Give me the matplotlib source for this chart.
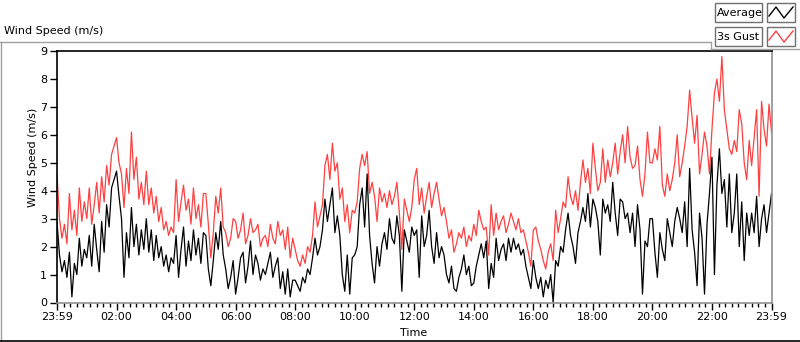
import numpy as np
import matplotlib
matplotlib.use("Agg")
import matplotlib.pyplot as plt
from matplotlib.lines import Line2D
from matplotlib.patches import Rectangle
from matplotlib.ticker import MultipleLocator

# Velocidade media (m/s), uma amostra a cada 5 minutos (12 por hora)
media = [
    2.9, 1.7, 1.1, 1.5, 0.9, 1.8, 0.2, 1.4, 1.0, 2.3, 1.3, 1.9,
    1.6, 2.4, 1.3, 2.8, 1.9, 1.1, 2.9, 1.8, 3.5, 2.7, 4.1, 4.4,
    4.7, 3.8, 3.0, 0.9, 2.5, 1.6, 3.4, 2.0, 2.8, 1.7, 2.6, 1.9,
    3.0, 1.8, 2.6, 1.5, 2.4, 1.6, 2.0, 1.3, 1.7, 1.1, 1.6, 1.4,
    2.4, 0.9, 1.9, 2.7, 1.3, 2.2, 1.5, 2.6, 1.7, 2.3, 1.4, 2.5,
    2.4, 1.2, 0.6, 1.5, 2.5, 1.9, 2.9, 1.7, 1.2, 0.5, 0.9, 1.5,
    0.3, 0.9, 1.6, 1.8, 0.7, 1.3, 2.2, 1.0, 1.7, 1.4, 0.8, 1.2,
    1.0, 1.4, 1.8, 0.9, 1.3, 1.6, 0.5, 1.1, 0.3, 1.2, 0.2, 0.8,
    0.8, 0.6, 0.4, 0.9, 0.7, 1.2, 1.0, 1.6, 2.3, 1.7, 2.0, 2.6,
    3.7, 2.9, 3.5, 4.1, 2.5, 3.1, 2.4, 1.0, 0.4, 1.7, 0.3, 1.6,
    1.7, 2.0, 3.5, 4.1, 2.7, 4.6, 2.4, 1.4, 0.7, 2.0, 1.3, 2.1,
    2.5, 1.9, 3.0, 2.3, 2.1, 3.1, 2.4, 0.4, 2.6, 2.2, 1.8, 2.7,
    2.4, 2.6, 0.9, 3.1, 2.0, 2.4, 3.3, 2.0, 1.4, 2.5, 1.6, 2.0,
    1.7, 1.0, 0.7, 1.3, 0.5, 0.4, 0.9, 1.2, 1.7, 1.0, 1.3, 0.6,
    0.7, 1.3, 1.7, 2.1, 1.6, 2.2, 0.5, 1.4, 0.9, 2.3, 1.5, 1.9,
    2.1, 1.5, 2.3, 1.8, 2.3, 1.9, 2.1, 1.7, 1.9, 1.3, 0.9, 0.5,
    1.5, 0.9, 0.5, 0.9, 0.2, 0.8, 0.5, 1.0, 0.0, 1.5, 1.3, 2.0,
    1.8, 2.6, 3.2, 2.4, 2.0, 1.4, 2.5, 2.9, 3.4, 2.9, 3.9, 2.7,
    3.7, 3.4, 2.9, 1.7, 3.7, 3.2, 3.5, 2.9, 4.3, 3.2, 2.4, 3.7,
    3.6, 3.0, 3.2, 2.5, 3.2, 2.0, 3.5, 2.6, 0.3, 2.2, 2.0, 3.0,
    3.0, 1.8, 0.9, 2.5, 1.9, 1.5, 3.0, 2.5, 2.0, 2.9, 3.4, 3.0,
    2.5, 3.6, 2.0, 4.8, 2.6, 1.8, 0.6, 3.2, 2.3, 0.3, 2.8, 3.9,
    5.2, 1.0, 4.2, 5.5, 3.9, 4.4, 2.7, 4.6, 2.5, 3.2, 4.6, 2.0,
    3.6, 1.5, 3.2, 2.4, 3.2, 2.5, 3.8, 2.0, 3.0, 3.5, 2.5, 3.2, 3.9,
]

# Rajada de 3 s (m/s), mesmas amostras
rajada = [
    4.6, 3.0, 2.3, 2.8, 2.1, 3.9, 2.6, 3.3, 2.4, 4.1, 2.9, 3.6,
    3.0, 4.1, 2.8, 3.5, 4.3, 3.2, 4.5, 3.6, 4.9, 4.2, 5.3, 5.6,
    5.9, 5.0, 4.6, 3.4, 4.8, 3.9, 6.1, 4.4, 5.2, 3.7, 4.3, 3.5,
    4.7, 3.5, 4.1, 3.2, 3.8, 2.9, 3.4, 2.6, 2.9, 2.4, 2.7, 2.5,
    4.4, 2.9, 3.6, 4.2, 3.3, 3.7, 2.8, 4.1, 3.0, 3.5, 2.7, 3.9,
    3.9, 2.8, 1.6, 2.5, 3.8, 3.2, 4.1, 2.7, 2.5, 2.0, 2.3, 3.0,
    2.9, 2.3, 2.6, 3.2, 2.1, 2.4, 3.0, 2.5, 2.6, 2.8, 2.0, 2.3,
    2.4, 2.0, 2.8, 2.3, 2.1, 2.9, 2.4, 2.6, 1.9, 2.7, 1.6, 2.3,
    1.9, 1.5, 1.3, 1.7, 1.4, 2.0, 1.8, 2.4, 3.6, 2.7, 3.1, 3.5,
    4.9, 5.3, 4.4, 5.7, 4.7, 5.0, 3.7, 4.1, 2.9, 3.5, 2.5, 3.3,
    3.2, 3.6, 4.8, 5.3, 4.9, 5.4, 3.9, 4.3, 3.8, 2.9, 4.1, 3.6,
    3.9, 3.4, 4.0, 3.5, 3.8, 4.3, 3.2, 1.9, 3.7, 3.3, 2.9, 3.4,
    4.4, 4.8, 3.5, 4.1, 3.2, 3.8, 4.3, 3.4, 3.9, 4.3, 3.7, 3.1,
    3.4, 2.9, 2.3, 2.6, 1.8, 2.1, 2.5, 2.3, 2.7, 2.0, 2.4, 2.2,
    2.8, 2.4, 3.3, 2.9, 2.6, 2.7, 1.7, 3.5, 2.4, 3.2, 2.6, 2.9,
    3.1, 2.5, 2.8, 3.2, 2.9, 2.6, 3.0, 2.5, 2.6, 2.2, 1.8, 1.3,
    2.6, 2.7, 2.2, 1.9, 1.5, 1.2, 1.8, 2.1, 1.5, 3.3, 2.5, 3.0,
    3.6, 3.4, 4.5, 3.8, 3.5, 4.0, 3.3, 4.3, 5.1, 4.3, 4.8, 3.9,
    5.7, 4.8, 4.0, 4.3, 5.5, 4.3, 5.1, 4.5, 5.0, 5.7, 4.6, 5.4,
    6.0, 5.0, 6.3, 5.2, 4.8, 4.9, 5.6, 4.4, 3.8, 4.6, 6.1, 5.0,
    5.0, 5.5, 5.1, 6.3, 4.2, 3.8, 4.6, 4.0, 4.4, 5.0, 6.0, 4.5,
    5.0, 5.6, 6.3, 7.6, 6.6, 5.7, 6.7, 4.6, 5.3, 6.1, 5.6, 4.6,
    6.2, 7.5, 8.0, 7.2, 8.8, 6.9, 6.2, 5.5, 5.3, 5.8, 5.4, 6.9,
    6.4, 5.0, 4.4, 5.8, 4.9, 5.9, 6.9, 3.8, 7.2, 6.2, 5.6, 7.1, 6.1,
]

horas_ticks = [0, 2, 4, 6, 8, 10, 12, 14, 16, 18, 20, 22, 24]
rotulos_ticks = ["23:59", "02:00", "04:00", "06:00", "08:00", "10:00", "12:00",
                 "14:00", "16:00", "18:00", "20:00", "22:00", "23:59"]
velocidades_ticks = [0, 1, 2, 3, 4, 5, 6, 7, 8, 9]

W, H = 800, 342
fonte = 8
plt.rcParams['font.family'] = ['DejaVu Sans']


def fx(px):
    return px / W


def fy(py):
    return 1 - py / H


# tempo em horas a partir do inicio do registro
tempo = np.arange(len(media)) * 5 / 60

fig = plt.figure(figsize=(W / 100, H / 100), dpi=100)
ax = fig.add_axes([fx(57), fy(302.5), fx(771.5) - fx(57), fy(51) - fy(302.5)])

ax.plot(tempo, rajada, color='#ff4040', linewidth=0.9)
ax.plot(tempo, media, color='black', linewidth=0.9)

ax.set_xlim(0, 24)
ax.set_ylim(0, 9)
ax.set_xticks(horas_ticks)
ax.set_xticklabels(rotulos_ticks)
ax.xaxis.set_minor_locator(MultipleLocator(2 / 9))
ax.set_yticks(velocidades_ticks)

ax.tick_params(axis='both', which='major', direction='out', length=5, width=1,
               labelsize=fonte, pad=2)
ax.tick_params(axis='x', which='minor', direction='out', length=3, width=1)

ax.spines['top'].set_color('black')
ax.spines['left'].set_color('black')
ax.spines['right'].set_color('#909090')
ax.spines['bottom'].set_color('#909090')
for s in ax.spines.values():
    s.set_linewidth(1.2)

# rotulos
fig.text(fx(4), fy(31), "Wind Speed (m/s)", ha='left', va='center', fontsize=fonte)
fig.text(fx(33), fy(157), "Wind Speed (m/s)", rotation=90, ha='center', va='center',
         fontsize=fonte)
fig.text(fx(414), fy(333), "Time", ha='center', va='center', fontsize=fonte)

# moldura do painel
cinza = '#a0a0a0'
fig.add_artist(Line2D([fx(0), fx(711)], [fy(42), fy(42)], color=cinza, lw=1))
fig.add_artist(Line2D([fx(711), fx(711)], [fy(42), fy(49)], color=cinza, lw=1))
fig.add_artist(Line2D([fx(711), fx(800)], [fy(49), fy(49)], color=cinza, lw=1))
fig.add_artist(Line2D([fx(0.5), fx(0.5)], [fy(42), fy(341)], color=cinza, lw=1))
fig.add_artist(Line2D([fx(0), fx(800)], [fy(340.5), fy(340.5)], color='black', lw=1.2))

# legenda
itens = [("Average", 'black', 3), ("3s Gust", '#ff4040', 27)]
for nome, cor, topo in itens:
    fig.add_artist(Rectangle((fx(715), fy(topo + 19)), fx(47), fy(0) - fy(19),
                             facecolor='white', edgecolor='#707070', lw=1))
    fig.add_artist(Rectangle((fx(767), fy(topo + 19)), fx(28), fy(0) - fy(19),
                             facecolor='white', edgecolor='#707070', lw=1))
    fig.text(fx(717), fy(topo + 9.5), nome, ha='left', va='center', fontsize=fonte)
    fig.add_artist(Line2D([fx(769), fx(776), fx(784), fx(793)],
                          [fy(topo + 13), fy(topo + 4), fy(topo + 15), fy(topo + 4)],
                          color=cor, lw=1))

fig.savefig("out.png", dpi=100)
